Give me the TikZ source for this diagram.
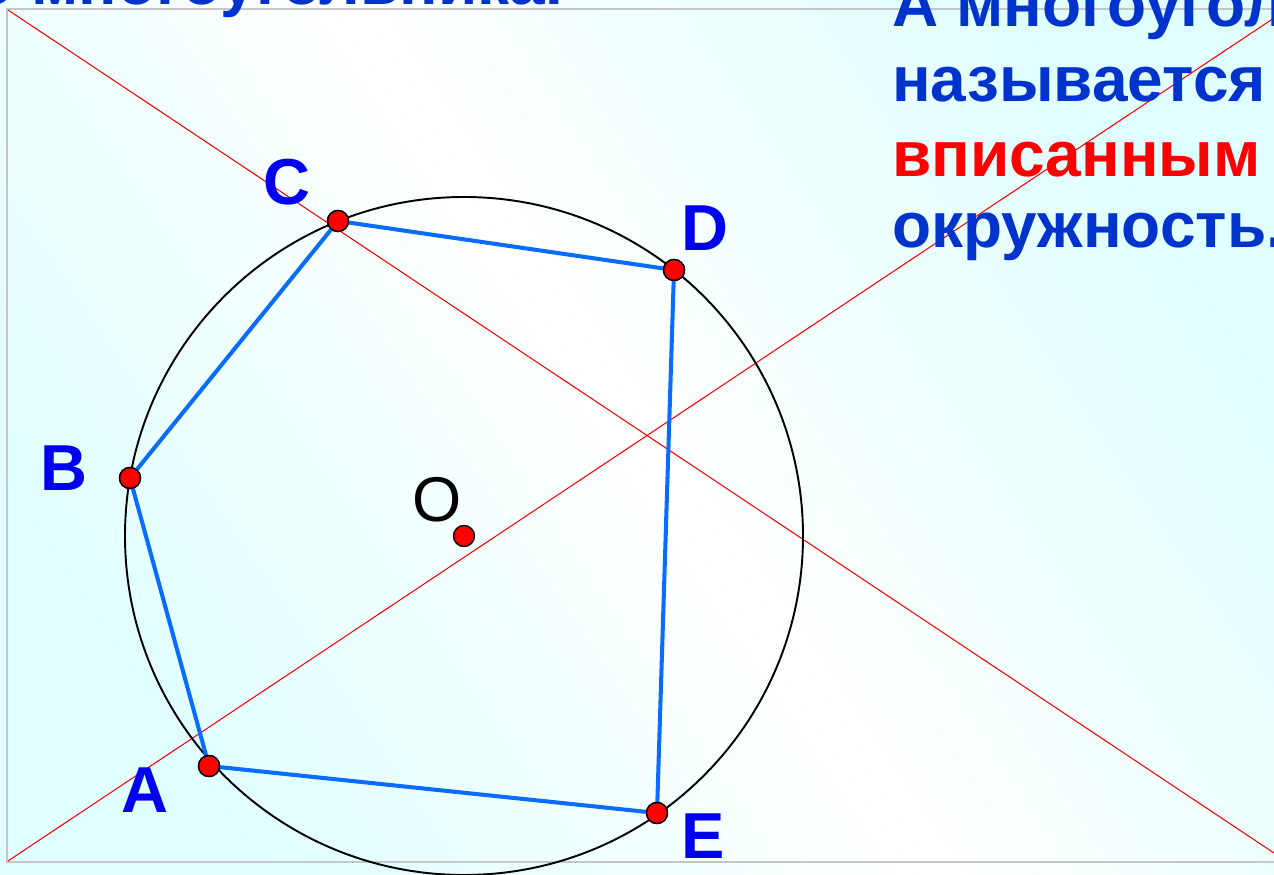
\documentclass[tikz,border=0pt]{standalone}
\usepackage{fontspec}
\setsansfont{Liberation Sans}
\usepackage{xcolor}
\usepackage{tikz}

\definecolor{textblue}{RGB}{0,51,204}
\definecolor{labelblue}{RGB}{0,0,240}
\definecolor{sideblue}{RGB}{10,108,255}
\definecolor{bgcyan}{RGB}{224,255,255}

\begin{document}
\begin{tikzpicture}[x=0.02cm, y=0.02cm,
  pt/.style={circle, draw=black, fill=red, line width=0.8pt, inner sep=0pt, minimum size=0.42cm},
  lbl/.style={font=\sffamily\bfseries\fontsize{37}{44}\selectfont, text=labelblue, inner sep=0pt},
  txt/.style={font=\sffamily\bfseries\fontsize{36.4}{42}\selectfont, text=textblue, anchor=base west, inner sep=0pt},
  side/.style={line width=2.3pt, color=sideblue},
  diag/.style={red, line width=0.6pt}
]
  \useasboundingbox (0,0) rectangle (1274,875);
  \clip (0,0) rectangle (1274,875);

  % Background and frame
  \shade[top color=bgcyan, bottom color=bgcyan, middle color=white, shading angle=-56]
    (0,0) rectangle (1274,875);
  \draw[gray!45, line width=0.8pt] (7,13) rectangle (1300,866);

  % Corners of the frame
  \coordinate (tl) at (8,865);
  \coordinate (br) at (1274,22);
  \coordinate (bl) at (8,14);
  \coordinate (tr) at (1274,857);

  % Diagonals
  \draw[diag] (tl) -- (br);
  \draw[diag] (bl) -- (tr);

  % Circle
  \coordinate (O) at (464,339);
  \draw[line width=1.1pt] (O) circle (339);

  % Vertices
  \node[pt] (C) at (338,654) {};
  \node[pt] (D) at (674,605) {};
  \node[pt] (B) at (130,397) {};
  \node[pt] (A) at (209,109) {};
  \node[pt] (E) at (657,62) {};

  % Pentagon
  \draw[side] (A) -- (B) -- (C) -- (D) -- (E) -- (A);
  \foreach \v in {A,B,C,D,E}
    \node[pt] at (\v) {};

  % Centre
  \node[pt] (Odot) at (O) {};
  \node[font=\sffamily\fontsize{36}{42}\selectfont, inner sep=0pt] (Olbl) at (437,375) {O};

  % Labels
  \node[lbl] (lblC) at (287,693) {C};
  \node[lbl] (lblD) at (705,647) {D};
  \node[lbl] (lblB) at (64,407) {B};
  \node[lbl] (lblA) at (145,85) {A};
  \node[lbl] (lblE) at (703,39) {E};

  % Texts
  \node[txt, anchor=base east] (head) at (563,870) {о многоугольника.};
  \node[txt] (line1) at (892,848) {А многоугол};
  \node[txt] (line2) at (892,773) {называется};
  \node[txt, text=red] (line3) at (892,698) {вписанным};
  \node[txt] (line4) at (892,627) {окружность.};
\end{tikzpicture}
\end{document}
